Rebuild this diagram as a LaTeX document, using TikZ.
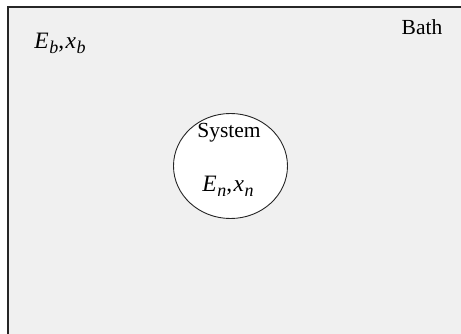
\documentclass[tikz,border=0pt]{standalone}
\usepackage{fontspec}
\setmainfont{Liberation Serif}
\newcommand\subit[2]{\textit{#1}\kern0.5pt\raisebox{-0.4ex}{\fontsize{18}{19}\selectfont\itshape #2}}
\begin{document}
\begin{tikzpicture}[x=1pt,y=-1pt,
  lbl/.style={inner sep=0pt,font=\fontsize{21.5}{24}\selectfont,anchor=base},
  mlbl/.style={inner sep=0pt,font=\fontsize{23.5}{26}\selectfont,anchor=base}]
\useasboundingbox (0,0) rectangle (461,334);
\fill[white] (0,0) rectangle (461,334);
\fill[gray!12] (8,7) rectangle (461,334);
\draw[line width=1.6pt,black!85] (8,334) -- (8,7) -- (461,7);
\draw[line width=0.9pt,black!85,fill=white] (230.5,166) ellipse [x radius=57,y radius=52.5];
\node[lbl] (bath) at (422,35) {Bath};
\node[mlbl] (eb) at (60,49) {\subit{E}{b},\kern1.5pt\subit{x}{b}};
\node[lbl] (sys) at (229,138) {System};
\node[mlbl] (en) at (228,192) {\subit{E}{n},\kern1.5pt\subit{x}{n}};
\end{tikzpicture}
\end{document}
